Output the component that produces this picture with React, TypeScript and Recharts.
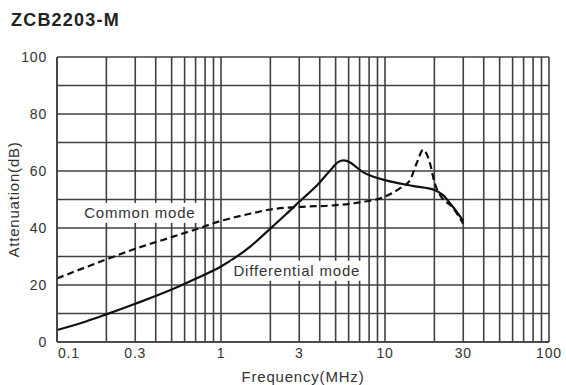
import React from "react";
import {
  CartesianGrid,
  Line,
  LineChart,
  ReferenceDot,
  XAxis,
  YAxis,
} from "recharts";

const FONT = '"Liberation Sans", Arial, sans-serif';
const INK = "#333";

// gridlines: every 1..9 per decade, labels only on a few
const X_GRID = [
  0.1, 0.2, 0.3, 0.4, 0.5, 0.6, 0.7, 0.8, 0.9,
  1, 2, 3, 4, 5, 6, 7, 8, 9,
  10, 20, 30, 40, 50, 60, 70, 80, 90, 100,
];
const X_LABELS = [0.1, 0.3, 1, 3, 10, 30, 100];
const Y_GRID = [0, 10, 20, 30, 40, 50, 60, 70, 80, 90, 100];
const Y_LABELS = [0, 20, 40, 60, 80, 100];

// Differential mode (solid)
const DM_FREQ = [0.1, 0.15, 0.2, 0.3, 0.5, 0.7, 1, 1.5, 2, 2.5, 3, 4, 4.7, 5.2, 5.6, 6.1, 6.6, 7.3, 8.5, 10, 15, 20, 22.5, 25.5, 30];
const DM_ATT = [4.2, 7.2, 9.7, 13.4, 18.4, 22.2, 26.5, 33.4, 39.8, 44.9, 49.2, 56, 60.6, 63.2, 63.7, 63.1, 61.6, 59.7, 58, 56.8, 54.7, 53.3, 51.6, 48, 42.5];

// Common mode (dashed)
const CM_FREQ = [0.1, 0.2, 0.3, 0.5, 0.7, 1, 1.5, 2, 3, 5, 7, 10, 12.3, 14.2, 15.6, 17.1, 18.8, 20.1, 22, 25.6, 30];
const CM_ATT = [22.3, 29, 32.7, 36.8, 39.5, 42.5, 45, 46.5, 47.4, 48, 49, 51, 53.9, 56.8, 62.7, 67.4, 62.7, 55.7, 51, 47.5, 41.5];

const dmData = DM_FREQ.map((f, i) => ({ f, att: DM_ATT[i] }));
const cmData = CM_FREQ.map((f, i) => ({ f, att: CM_ATT[i] }));

const textStyle = { fontFamily: FONT, fill: INK, letterSpacing: "0.8px" };

function XTick(props: any) {
  const { x, y, payload } = props;
  const v = payload.value;
  if (!X_LABELS.includes(v)) return null;
  const first = v === 0.1;
  return (
    <text
      x={first ? x + 1 : x}
      y={y}
      dy="0.71em"
      textAnchor={first ? "start" : "middle"}
      fontSize={14}
      style={textStyle}
    >
      {String(v)}
    </text>
  );
}

function YTick(props: any) {
  const { x, y, payload } = props;
  const v = payload.value;
  if (!Y_LABELS.includes(v)) return null;
  return (
    <text x={x} y={y} dy="0.355em" textAnchor="end" fontSize={14} style={textStyle}>
      {String(v)}
    </text>
  );
}

function boxedLabel(text: string, w: number) {
  return (p: any) => (
    <g>
      <rect x={p.cx - w / 2} y={p.cy - 10} width={w} height={20} fill="#fff" />
      <text
        x={p.cx}
        y={p.cy}
        dy="0.355em"
        textAnchor="middle"
        fontSize={15}
        style={textStyle}
      >
        {text}
      </text>
    </g>
  );
}

export default function App() {
  return (
    <div
      style={{
        position: "absolute",
        left: 0,
        top: 0,
        width: 566,
        height: 385,
        background: "#fff",
      }}
    >
      <div
        style={{
          position: "absolute",
          left: 11,
          top: 10,
          fontFamily: FONT,
          fontWeight: "bold",
          fontSize: 18,
          letterSpacing: "1.2px",
          color: "#222",
        }}
      >
        ZCB2203-M
      </div>
      <LineChart
        width={566}
        height={385}
        margin={{ top: 57, right: 17, bottom: 0, left: 0 }}
      >
        <CartesianGrid stroke="#404040" strokeWidth={1.6} />
        <XAxis
          dataKey="f"
          type="number"
          scale="log"
          domain={[0.1, 100]}
          ticks={X_GRID}
          interval={0}
          allowDataOverflow
          height={43}
          tickSize={0}
          tickMargin={6}
          tick={<XTick />}
          axisLine={{ stroke: "#404040", strokeWidth: 1.6 }}
          label={{
            value: "Frequency(MHz)",
            position: "insideBottom",
            offset: 3,
            fontSize: 15,
            fill: INK,
            style: { fontFamily: FONT, letterSpacing: "0.8px" },
          }}
        />
        <YAxis
          type="number"
          domain={[0, 100]}
          ticks={Y_GRID}
          interval={0}
          width={57}
          tickSize={0}
          tickMargin={10}
          tick={<YTick />}
          axisLine={{ stroke: "#404040", strokeWidth: 1.6 }}
          label={{
            value: "Attenuation(dB)",
            angle: -90,
            position: "insideLeft",
            offset: 14,
            fontSize: 15,
            fill: INK,
            style: { fontFamily: FONT, letterSpacing: "0.8px", textAnchor: "middle" },
          }}
        />
        <Line
          data={cmData}
          dataKey="att"
          type="monotone"
          stroke="#111"
          strokeWidth={2.2}
          strokeDasharray="7 4"
          dot={false}
          isAnimationActive={false}
        />
        <Line
          data={dmData}
          dataKey="att"
          type="monotone"
          stroke="#111"
          strokeWidth={2.2}
          dot={false}
          isAnimationActive={false}
        />
        <ReferenceDot x={0.32} y={45.3} shape={boxedLabel("Common mode", 118)} />
        <ReferenceDot x={2.9} y={25} shape={boxedLabel("Differential mode", 132)} />
      </LineChart>
    </div>
  );
}
